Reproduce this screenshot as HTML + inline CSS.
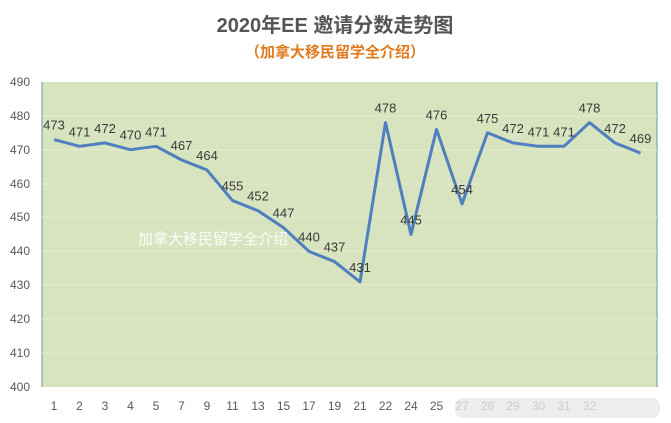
<!DOCTYPE html>
<html><head><meta charset="utf-8"><style>
body{margin:0;background:#fff;width:671px;height:418px;overflow:hidden}
svg text{font-family:"Liberation Sans","Noto Sans CJK SC",sans-serif}
</style></head><body>
<svg width="671" height="418" xmlns="http://www.w3.org/2000/svg">
<text x="335" y="32" text-anchor="middle" font-size="20" font-weight="bold" fill="#555">2020年EE 邀请分数走势图</text>
<text x="335" y="57" text-anchor="middle" font-size="15" font-weight="bold" fill="#e07a1e">（加拿大移民留学全介绍）</text>
<rect x="42" y="82" width="615" height="305" fill="#d8e4bf"/>
<line x1="42" y1="82" x2="42" y2="387" stroke="#5a9aa8" stroke-width="1"/>
<line x1="657" y1="82" x2="657" y2="387" stroke="#5a9aa8" stroke-width="1"/>
<g stroke="#e4ecd2" stroke-width="1">
<line x1="42" x2="657" y1="116" y2="116"/><line x1="42" x2="657" y1="150" y2="150"/><line x1="42" x2="657" y1="184" y2="184"/><line x1="42" x2="657" y1="217" y2="217"/><line x1="42" x2="657" y1="251" y2="251"/><line x1="42" x2="657" y1="285" y2="285"/><line x1="42" x2="657" y1="319" y2="319"/><line x1="42" x2="657" y1="353" y2="353"/>
</g>
<g font-size="12" fill="#595959" text-anchor="end">
<text x="30" y="86">490</text><text x="30" y="120">480</text><text x="30" y="154">470</text><text x="30" y="188">460</text><text x="30" y="221">450</text><text x="30" y="255">440</text><text x="30" y="289">430</text><text x="30" y="323">420</text><text x="30" y="357">410</text><text x="30" y="391">400</text>
</g>
<g id="c"></g>
<text x="138" y="244" font-size="15" fill="#fff" opacity="0.9">加拿大移民留学全介绍</text>
<rect x="455" y="398" width="205" height="20" rx="8" fill="#e8e8e8" opacity="0.8"/>
</svg>
<script>
var v=[473,471,472,470,471,467,464,455,452,447,440,437,431,478,445,476,454,475,472,471,471,478,472,469];
var l=[1,2,3,4,5,7,9,11,13,15,17,19,21,22,24,25,27,28,29,30,31,32,35,39];
var g=document.getElementById('c'),pts=[],s='';
function X(i){return 54+i*25.5}function Y(d){return 387-(d-400)*3.39}
v.forEach(function(d,i){pts.push(X(i)+','+Y(d));
s+='<text x="'+X(i)+'" y="'+(Y(d)-10)+'" font-size="13" text-anchor="middle" fill="#3a3a3a">'+d+'</text>';
if(i<22)s+='<text x="'+X(i)+'" y="410" font-size="12" text-anchor="middle" fill="#595959">'+l[i]+'</text>';});
g.innerHTML='<polyline points="'+pts.join(' ')+'" fill="none" stroke="#4f7fbf" stroke-width="3" stroke-linejoin="round"/>'+s;
</script>
</body></html>
